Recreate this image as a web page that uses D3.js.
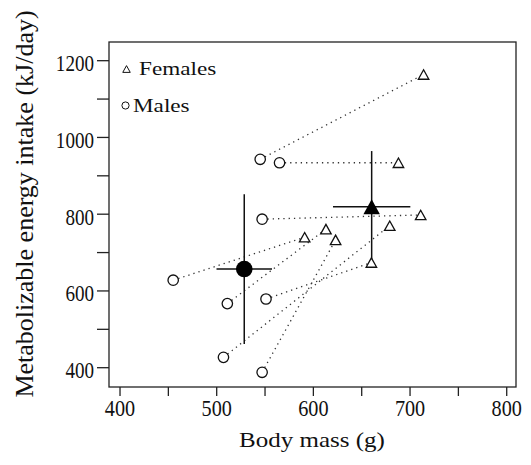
<!DOCTYPE html>
<html>
<head>
<meta charset="utf-8">
<script src="https://cdn.jsdelivr.net/npm/d3@7"></script>
<style>
  body { margin: 0; background: #fff; }
  text { font-family: "Liberation Serif", "DejaVu Serif", serif; fill: #111; }
</style>
</head>
<body>
<div class="chart"></div>
<script>
// 個体ごとの値 (オス・メスのペア, 同じ順番)
const maleMass = [545, 565, 547, 455, 511, 551, 507, 547];
const maleEnergy = [943, 934, 787, 628, 567, 579, 427, 388];
const femaleMass = [714, 688, 711, 591, 613, 660, 679, 623];
const femaleEnergy = [1164, 934, 798, 740, 761, 674, 770, 733];

// 平均 ± 誤差 [mass, massErr, energy, energyErr]
const maleMean = [528.5, 28.7, 657, 195];
const femaleMean = [660.3, 40, 819.5, 145];

const xTicks = [400, 450, 500, 550, 600, 650, 700, 750, 800];
const xLabels = [400, 500, 600, 700, 800];
const yTicks = [400, 500, 600, 700, 800, 900, 1000, 1100, 1200];
const yLabels = [400, 600, 800, 1000, 1200];
const legendItems = ["Females", "Males"];

const W = 531, H = 465;
const frame = { left: 109, right: 516, top: 42, bottom: 387 };

const svg = d3.select(".chart").append("svg")
    .attr("width", W)
    .attr("height", H);

const x = d3.scaleLinear().domain([388.6, 809.6]).range([frame.left, frame.right]);
const y = d3.scaleLinear().domain([349.7, 1248.7]).range([frame.bottom, frame.top]);

// 三角形のパス (中心基準)
function tri(s) {
    const h = s * 0.9;
    return `M0,${-h / 2}L${s / 2},${h / 2}L${-s / 2},${h / 2}Z`;
}

// 枠
svg.append("rect")
    .attr("x", frame.left).attr("y", frame.top)
    .attr("width", frame.right - frame.left)
    .attr("height", frame.bottom - frame.top)
    .attr("fill", "none").attr("stroke", "#222").attr("stroke-width", 1.3);

// x 目盛り
svg.selectAll(".xtick").data(xTicks).enter().append("line")
    .attr("x1", d => x(d)).attr("x2", d => x(d))
    .attr("y1", frame.bottom).attr("y2", frame.bottom + 9)
    .attr("stroke", "#222").attr("stroke-width", 1.3);
svg.selectAll(".xlab").data(xLabels).enter().append("text")
    .attr("transform", d => `translate(${x(d)},416) scale(0.88,1)`)
    .attr("text-anchor", "middle")
    .style("font-size", "23px")
    .text(d => d);

// y 目盛り
svg.selectAll(".ytick").data(yTicks).enter().append("line")
    .attr("x1", frame.left - 12).attr("x2", frame.left)
    .attr("y1", d => y(d)).attr("y2", d => y(d))
    .attr("stroke", "#222").attr("stroke-width", 1.3);
svg.selectAll(".ylab").data(yLabels).enter().append("text")
    .attr("transform", d => `translate(94,${y(d) + 10.5}) scale(0.83,1)`)
    .attr("text-anchor", "end")
    .style("font-size", "23px")
    .text(d => d);

// 軸タイトル
svg.append("text")
    .attr("transform", "translate(312,447) scale(1.19,1)")
    .attr("text-anchor", "middle")
    .style("font-size", "21px")
    .text("Body mass (g)");
svg.append("text")
    .attr("transform", "translate(33,204) rotate(-90)")
    .attr("text-anchor", "middle")
    .style("font-size", "26px")
    .text("Metabolizable energy intake (kJ/day)");

// ペアを点線で結ぶ
svg.selectAll(".pair").data(maleMass).enter().append("line")
    .attr("x1", (d, i) => x(maleMass[i])).attr("y1", (d, i) => y(maleEnergy[i]))
    .attr("x2", (d, i) => x(femaleMass[i])).attr("y2", (d, i) => y(femaleEnergy[i]))
    .attr("stroke", "#333").attr("stroke-width", 1.3)
    .attr("stroke-dasharray", "1.3,4");

// 誤差線
[maleMean, femaleMean].forEach(m => {
    svg.append("line")
        .attr("x1", x(m[0] - m[1])).attr("x2", x(m[0] + m[1]))
        .attr("y1", y(m[2])).attr("y2", y(m[2]))
        .attr("stroke", "#111").attr("stroke-width", 1.5);
    svg.append("line")
        .attr("x1", x(m[0])).attr("x2", x(m[0]))
        .attr("y1", y(m[2] - m[3])).attr("y2", y(m[2] + m[3]))
        .attr("stroke", "#111").attr("stroke-width", 1.5);
});

// オス (白丸)
svg.selectAll(".male").data(maleMass).enter().append("circle")
    .attr("cx", (d, i) => x(maleMass[i]))
    .attr("cy", (d, i) => y(maleEnergy[i]))
    .attr("r", 5.2)
    .attr("fill", "#fff").attr("stroke", "#111").attr("stroke-width", 1.3);

// メス (白三角)
svg.selectAll(".female").data(femaleMass).enter().append("path")
    .attr("d", tri(10.5))
    .attr("transform", (d, i) => `translate(${x(femaleMass[i])},${y(femaleEnergy[i])})`)
    .attr("fill", "#fff").attr("stroke", "#111").attr("stroke-width", 1.3);

// 平均値 (黒塗り)
svg.append("circle")
    .attr("cx", x(maleMean[0])).attr("cy", y(maleMean[2]))
    .attr("r", 8.3).attr("fill", "#000");
svg.append("path")
    .attr("d", tri(16.5))
    .attr("transform", `translate(${x(femaleMean[0])},${y(femaleMean[2])})`)
    .attr("fill", "#000");

// 凡例
const legend = svg.append("g");
legend.append("path")
    .attr("d", tri(7.5))
    .attr("transform", "translate(126.5,69)")
    .attr("fill", "none").attr("stroke", "#111").attr("stroke-width", 1);
legend.append("circle")
    .attr("cx", 125.5).attr("cy", 105.5).attr("r", 3.6)
    .attr("fill", "none").attr("stroke", "#111").attr("stroke-width", 1);
legend.selectAll(".leg").data(legendItems).enter().append("text")
    .attr("transform", (d, i) => i === 0 ? "translate(139,75) scale(1.22,1)" : "translate(133,112) scale(1.22,1)")
    .style("font-size", "19px")
    .text(d => d);
</script>
</body>
</html>
